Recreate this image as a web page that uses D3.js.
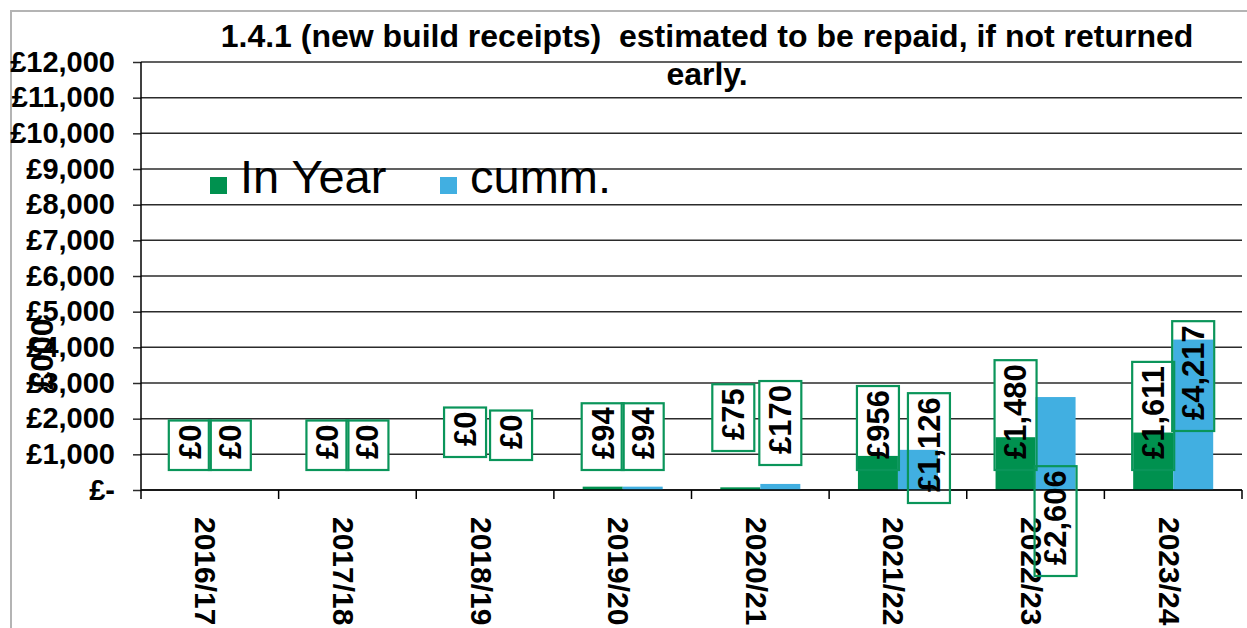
<!DOCTYPE html>
<html lang="en">
<head>
<meta charset="UTF-8">
<title>1.4.1 new build receipts</title>
<script src="https://cdn.jsdelivr.net/npm/d3@7"></script>
<style>
  body { margin: 0; background: #fff; }
  text { font-family: "Liberation Sans", Arial, sans-serif; }
</style>
</head>
<body>
<script>

// data (£000)
var categories = ["2016/17", "2017/18", "2018/19", "2019/20", "2020/21", "2021/22", "2022/23", "2023/24"];
var seriesNames = ["In Year", "cumm."];
var inYear = [0, 0, 0, 94, 75, 956, 1480, 1611];
var cumm = [0, 0, 0, 94, 170, 1126, 2606, 4217];
var yTicks = [0, 1000, 2000, 3000, 4000, 5000, 6000, 7000, 8000, 9000, 10000, 11000, 12000];

// label boxes were dragged around by hand in the original, so nudge them (px)
var labelNudge = {
  "In Year": {dx: [0, 0, 0, 0, -7, 0, 0, 0], dy: [0, 0, -13, 0, -19, 0, 0, 0]},
  "cumm.":   {dx: [0, 0, 6, 0, 0, 11, 0, 0],  dy: [0, 0, -10, 0, -5, 33, 106, -39]}
};

var w = 1247, h = 628;
var plot = {left: 141, right: 1242, top: 62, bottom: 490};
var colors = {"In Year": "#00914f", "cumm.": "#41afe1"};
var boxColor = "#0a955a";

var svg = d3.select("body").append("svg")
    .attr("width", w)
    .attr("height", h);

// outer chart frame
svg.append("path")
    .attr("d", "M11," + h + "V11H" + w)
    .attr("fill", "none")
    .attr("stroke", "#b4b4b4")
    .attr("stroke-width", 2);

var x0 = d3.scaleBand()
    .domain(categories)
    .range([plot.left, plot.right]);

var x1 = d3.scaleBand()
    .domain(seriesNames)
    .range([0, x0.bandwidth()])
    .paddingOuter(0.72);

var y = d3.scaleLinear()
    .domain([0, 12000])
    .range([plot.bottom, plot.top]);

// gridlines + y axis
var yAxis = d3.axisLeft(y)
    .tickValues(yTicks)
    .tickSize(8)
    .tickPadding(18)
    .tickFormat(function(d) { return d === 0 ? "£-" : "£" + d3.format(",")(d); });

var gy = svg.append("g")
    .attr("transform", "translate(" + plot.left + ",0)")
    .call(yAxis);
gy.select(".domain").remove();
gy.selectAll(".tick line").attr("stroke", "#2b2b2b").attr("stroke-width", 1.5);
gy.selectAll(".tick text")
    .attr("font-size", "29px")
    .attr("font-weight", "bold")
    .attr("fill", "#000");

svg.append("g")
    .selectAll("line")
    .data(yTicks)
    .enter()
    .append("line")
    .attr("x1", plot.left)
    .attr("x2", plot.right)
    .attr("y1", function(d) { return y(d); })
    .attr("y2", function(d) { return y(d); })
    .attr("stroke", "#2b2b2b")
    .attr("stroke-width", 1.5);

// label layer underneath the bars: white box fills hide the gridlines
var fmt = d3.format(",");
var rows = categories.map(function(c, i) {
    return {cat: c, i: i, vals: [{s: "In Year", v: inYear[i]}, {s: "cumm.", v: cumm[i]}]};
});
var labels = [];
rows.forEach(function(r) {
    r.vals.forEach(function(v) {
        labels.push({cat: r.cat, i: r.i, s: v.s, v: v.v});
    });
});

function labelPos(d) {
    var cx = x0(d.cat) + x1(d.s) + x1.bandwidth() / 2 + labelNudge[d.s].dx[d.i];
    var by = y(0) - 20 + labelNudge[d.s].dy[d.i];
    return "translate(" + cx + "," + by + ")";
}

var fills = svg.append("g");

// bars
var groups = svg.append("g")
    .selectAll("g")
    .data(rows)
    .enter()
    .append("g")
    .attr("transform", function(d) { return "translate(" + x0(d.cat) + ",0)"; });

groups.selectAll("rect")
    .data(function(d) { return d.vals; })
    .enter()
    .append("rect")
    .attr("x", function(d) { return x1(d.s); })
    .attr("width", x1.bandwidth())
    .attr("y", function(d) { return y(d.v); })
    .attr("height", function(d) { return y(0) - y(d.v); })
    .attr("fill", function(d) { return colors[d.s]; });

// x axis (ticks at category boundaries)
svg.append("line")
    .attr("x1", plot.left).attr("x2", plot.right)
    .attr("y1", y(0)).attr("y2", y(0))
    .attr("stroke", "#000").attr("stroke-width", 1.5);
svg.append("line")
    .attr("x1", plot.left).attr("x2", plot.left)
    .attr("y1", plot.top).attr("y2", y(0))
    .attr("stroke", "#000").attr("stroke-width", 1.5);

var bounds = categories.map(function(c) { return x0(c); }).concat([plot.right]);
svg.append("g")
    .selectAll("line")
    .data(bounds)
    .enter()
    .append("line")
    .attr("x1", function(d) { return d; })
    .attr("x2", function(d) { return d; })
    .attr("y1", y(0))
    .attr("y2", y(0) + 9)
    .attr("stroke", "#000")
    .attr("stroke-width", 1.5);

svg.append("g")
    .selectAll("text")
    .data(categories)
    .enter()
    .append("text")
    .attr("transform", function(d) {
        return "translate(" + (x0(d) + x0.bandwidth() / 2 - 4) + "," + (y(0) + 27) + ") rotate(90)";
    })
    .attr("dy", "0.35em")
    .attr("font-size", "30px")
    .attr("font-weight", "bold")
    .text(function(d) { return d; });

// data labels: box outline + text on top of the bars
var lab = svg.append("g")
    .selectAll("g")
    .data(labels)
    .enter()
    .append("g")
    .attr("transform", labelPos);

lab.append("text")
    .attr("transform", "rotate(-90)")
    .attr("x", 11)
    .attr("dy", "0.35em")
    .attr("font-size", "31px")
    .attr("font-weight", "bold")
    .text(function(d) { return "£" + fmt(d.v); });

lab.each(function(d) {
    var g = d3.select(this);
    var len = g.select("text").node().getComputedTextLength();
    var hgt = len + 15;
    g.insert("rect", "text")
        .attr("x", -21)
        .attr("width", 42)
        .attr("y", -hgt)
        .attr("height", hgt)
        .attr("fill", "none")
        .attr("stroke", boxColor)
        .attr("stroke-width", 2.2);
    fills.append("rect")
        .attr("transform", labelPos(d))
        .attr("x", -21)
        .attr("width", 42)
        .attr("y", -hgt)
        .attr("height", hgt)
        .attr("fill", "#fff");
});

// legend
var legend = svg.append("g")
    .selectAll("g")
    .data(seriesNames)
    .enter()
    .append("g")
    .attr("transform", function(d, i) { return "translate(" + (210 + i * 230) + ",177)"; });

legend.append("rect")
    .attr("width", 17)
    .attr("height", 17)
    .attr("fill", function(d) { return colors[d]; });

legend.append("text")
    .attr("x", 30)
    .attr("y", 16)
    .attr("font-size", "47px")
    .text(function(d) { return d; });

// title
var title = svg.append("text")
    .attr("text-anchor", "middle")
    .attr("font-size", "32px")
    .attr("font-weight", "bold")
    .style("white-space", "pre");
title.append("tspan")
    .attr("x", 707).attr("y", 47)
    .text("1.4.1 (new build receipts)  estimated to be repaid, if not returned");
title.append("tspan")
    .attr("x", 707).attr("y", 85)
    .text("early.");

// y axis title, sits on top of the tick labels like the original
svg.append("text")
    .attr("transform", "translate(42,354) rotate(-90)")
    .attr("text-anchor", "middle")
    .attr("dy", "0.35em")
    .attr("font-size", "32px")
    .attr("font-weight", "bold")
    .text("£000");

</script>
</body>
</html>
